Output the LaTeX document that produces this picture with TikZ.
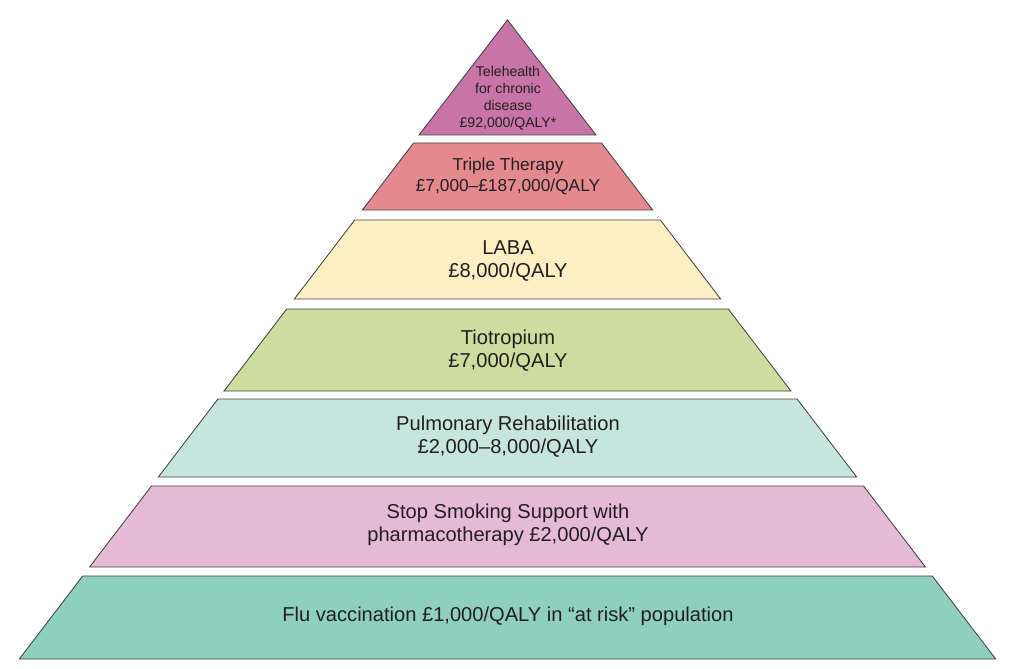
\documentclass[tikz,border=0pt]{standalone}
\usepackage{fontspec}
\setmainfont{Liberation Sans}
\definecolor{teleclr}{HTML}{C874A8}
\definecolor{tripleclr}{HTML}{E48A8E}
\definecolor{labaclr}{HTML}{FDEFC3}
\definecolor{tioclr}{HTML}{CEDD9F}
\definecolor{rehabclr}{HTML}{C6E6DD}
\definecolor{smokeclr}{HTML}{E5BAD4}
\definecolor{fluclr}{HTML}{8ECFBE}
\definecolor{inkclr}{HTML}{231F20}
\tikzset{
  layer/.style={draw=inkclr!85, line width=0.6pt, line join=miter},
  lbl/.style={align=center, text=inkclr, font=\fontsize{14.3}{16.4}\selectfont},
}
\begin{document}
\begin{tikzpicture}
[x=0.025cm, y=-0.025cm]
  \useasboundingbox (0,0) rectangle (1024,669);
  % top of pyramid
  \filldraw[layer, fill=teleclr] (507.5,20) -- (596,135) -- (419,135) -- cycle;
  % the layers below it, all on the same slope
  \foreach \ytop/\ybot/\fillc in {143/210/tripleclr,220/299/labaclr,309/391/tioclr,
    399/477/rehabclr,486/567/smokeclr,576/659/fluclr}
  {
    \pgfmathsetmacro\wt{0.764*(\ytop-20)}
    \pgfmathsetmacro\wb{0.764*(\ybot-20)}
    \filldraw[layer, fill=\fillc] (507.5-\wt,\ytop) -- (507.5+\wt,\ytop)
      -- (507.5+\wb,\ybot) -- (507.5-\wb,\ybot) -- cycle;
  }
  \node [lbl, font=\fontsize{10}{12}\selectfont] (tele) at (508,98)
    {Telehealth\\for chronic\\disease\\£92,000/QALY*};
  \node [lbl, font=\fontsize{12.3}{15}\selectfont] (triple) at (508,176)
    {Triple Therapy\\£7,000–£187,000/QALY};
  \node [lbl] (laba) at (508,261) {LABA\\£8,000/QALY};
  \node [lbl] (tio) at (508,351) {Tiotropium\\£7,000/QALY};
  \node [lbl] (rehab) at (508,437) {Pulmonary Rehabilitation\\£2,000–8,000/QALY};
  \node [lbl] (smoke) at (508,525) {Stop Smoking Support with\\pharmacotherapy £2,000/QALY};
  \node [lbl] (flu) at (508,616) {Flu vaccination £1,000/QALY in “at risk” population};
\end{tikzpicture}
\end{document}
